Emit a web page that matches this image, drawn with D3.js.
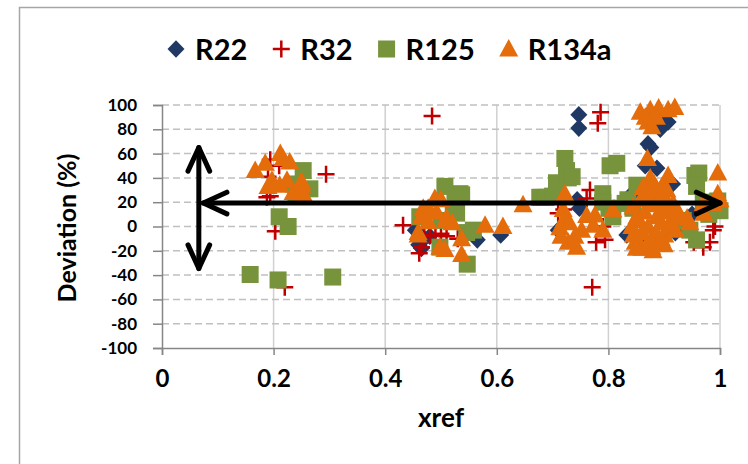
<!DOCTYPE html>
<html>
<head>
<meta charset="utf-8">
<script src="https://cdn.jsdelivr.net/npm/d3@7"></script>
<style>
  body { margin: 0; background: #fff; }
  text { font-family: Lato, "Open Sans", sans-serif; font-weight: bold; fill: #000; }
</style>
</head>
<body>
<script>
// series names and legend order
var seriesNames = ["R22", "R32", "R125", "R134a"];

// [xref, deviation %]
var r22 = [
  [0.747, 92], [0.747, 81],
  [0.907, 86], [0.898, 84], [0.893, 80], [0.871, 68], [0.876, 65], [0.887, 48], [0.866, 50], [0.915, 35],
  [0.71, -3], [0.744, 22], [0.748, 15],
  [0.838, -5], [0.842, 27], [0.85, 30],
  [0.454, -3], [0.46, -15], [0.465, -18], [0.47, -10], [0.48, -8],
  [0.565, -11], [0.607, -7],
  [0.915, 8], [0.833, -7], [0.86, -10], [0.9, 15], [0.95, 10], [0.92, -5]
];
var r32 = [
  [0.484, 91], [0.786, 94], [0.781, 85], [0.294, 43], [0.194, 55], [0.19, 41], [0.194, 25], [0.203, -4],
  [0.22, -50], [0.188, 24], [0.21, 50],
  [0.432, 1], [0.461, -22], [0.465, -17], [0.47, -8], [0.48, -7], [0.49, -7], [0.5, -6], [0.51, -8], [0.53, -10],
  [0.771, -50], [0.778, -13], [0.794, -11], [0.767, 30], [0.761, 23], [0.71, 11], [0.72, 14], [0.79, 0],
  [0.982, -13], [0.991, 0], [0.97, -17], [0.953, -13], [0.988, -3], [0.84, 20], [0.88, 25], [0.81, 15]
];
var r125 = [
  [0.158, -39.5], [0.208, -44], [0.306, -41.6], [0.21, 8], [0.226, 0], [0.253, 46], [0.265, 31], [0.235, 35], [0.24, 28],
  [0.507, 33], [0.534, 27], [0.525, 22], [0.537, 26], [0.528, 11], [0.522, 13], [0.546, -5], [0.558, -3], [0.547, -31],
  [0.498, -17], [0.462, 8], [0.5, 5],
  [0.677, 24], [0.68, 24], [0.707, 36], [0.722, 56], [0.725, 46], [0.728, 40], [0.735, 41], [0.688, 24], [0.7, 25],
  [0.803, 50], [0.815, 52], [0.79, 27], [0.79, 20], [0.801, 15], [0.808, 8], [0.844, 15], [0.835, 22], [0.851, 34], [0.83, 19],
  [0.955, 42], [0.962, 44], [0.958, 33], [0.996, 21], [1.0, 13], [0.958, -11], [0.934, 5], [0.946, -3], [0.97, 20], [0.98, 10]
];
var r134a = [
  [0.167, 46], [0.185, 52], [0.217, 56], [0.229, 53], [0.212, 60], [0.197, 38], [0.19, 33], [0.211, 34], [0.224, 38],
  [0.235, 28], [0.251, 34], [0.253, 27], [0.25, 37],
  [0.489, 23], [0.468, 15], [0.51, 7], [0.459, -5], [0.459, -7], [0.498, -17], [0.507, -19], [0.537, -10], [0.537, -23],
  [0.477, 15], [0.492, 12], [0.51, 5], [0.52, 3], [0.465, 8], [0.5, 22], [0.477, 4],
  [0.579, 1], [0.611, 0], [0.647, 18],
  [0.722, 27], [0.719, 14], [0.72, 5], [0.713, -1], [0.715, -8], [0.728, -13], [0.743, -17], [0.752, -3], [0.761, 9],
  [0.776, 9.5], [0.773, 1], [0.74, -8], [0.808, 13.6], [0.79, -3], [0.73, 3],
  [0.857, 94], [0.875, 96], [0.89, 97.5], [0.907, 96], [0.919, 98], [0.866, 90], [0.871, 86], [0.878, 82], [0.886, 90], [0.87, 56],
  [0.875, 40], [0.907, 42], [0.896, 33], [0.862, 32], [0.88, 27], [0.858, 22], [0.844, 16], [0.851, 8], [0.842, 0], [0.845, -7],
  [0.848, -13], [0.86, -18], [0.878, -17], [0.889, -14], [0.901, -7], [0.91, 0], [0.916, 8], [0.916, 19], [0.887, 8], [0.871, 0],
  [0.86, -5], [0.877, -10], [0.875, 18], [0.9, 25], [0.865, 12], [0.895, 15], [0.87, -14],
  [0.855, 5], [0.885, -5], [0.895, 3], [0.905, 12], [0.865, 25], [0.89, 22], [0.85, -18], [0.88, -20], [0.895, -10],
  [0.92, -3], [0.925, 12], [0.905, 30], [0.87, 30], [0.882, 35], [0.9, -15],
  [0.941, 7], [0.946, 3], [0.97, 19], [0.996, 44], [0.996, 27], [1.0, 22], [0.988, 19], [0.971, 11]
];

var xTicks = [0, 0.2, 0.4, 0.6, 0.8, 1];
var yTicks = [-100, -80, -60, -40, -20, 0, 20, 40, 60, 80, 100];

// the two double-headed arrows drawn on the chart, in data units
var hArrow = {x1: 0.074, x2: 1.0, y: 19.3};
var vArrow = {x: 0.066, y1: 65, y2: -34.6};

var margin = {top: 105, right: 28, bottom: 116, left: 162},
  width = 748 - margin.left - margin.right,
  height = 464 - margin.top - margin.bottom;

var root = d3.select("body").append("svg")
  .attr("width", 748)
  .attr("height", 464);

// outer chart border (runs off the picture on the right and bottom)
root.append("rect")
  .attr("x", 19.5).attr("y", 7.5)
  .attr("width", 760).attr("height", 480)
  .attr("fill", "#fff")
  .attr("stroke", "#a6a6a6")
  .attr("stroke-width", 1.5);

var svg = root.append("g")
  .attr("transform", "translate(" + margin.left + "," + margin.top + ")");

var x = d3.scaleLinear().range([0, width]).domain([0, 1]);
var y = d3.scaleLinear().range([height, 0]).domain([-100, 100]);

// vertical gridlines
svg.append("g")
  .selectAll("line")
  .data(xTicks.slice(1))
  .enter().append("line")
  .attr("x1", function(d) { return x(d); })
  .attr("x2", function(d) { return x(d); })
  .attr("y1", 0).attr("y2", height)
  .attr("stroke", "#d0d0d0")
  .attr("stroke-width", 1.5);

// horizontal dashed gridlines
svg.append("g")
  .selectAll("line")
  .data(yTicks.slice(1))
  .enter().append("line")
  .attr("x1", 0).attr("x2", width)
  .attr("y1", function(d) { return y(d); })
  .attr("y2", function(d) { return y(d); })
  .attr("stroke", "#c0c0c0")
  .attr("stroke-width", 1.5)
  .attr("stroke-dasharray", "7,4");

// axes
var plain = function(d) { return String(d); };
var xAxis = svg.append("g")
  .attr("class", "x axis")
  .attr("transform", "translate(0," + height + ")")
  .call(d3.axisBottom(x).tickValues(xTicks).tickSize(7).tickPadding(15).tickFormat(plain));
var yAxis = svg.append("g")
  .attr("class", "y axis")
  .call(d3.axisLeft(y).tickValues(yTicks).tickSize(9).tickPadding(16).tickFormat(plain));

xAxis.select(".domain").attr("stroke", "#868686").attr("stroke-width", 1.5);
yAxis.select(".domain").attr("stroke", "#868686").attr("stroke-width", 1.5);
xAxis.selectAll(".tick line").attr("stroke", "#868686").attr("stroke-width", 1.5);
yAxis.selectAll(".tick line").attr("stroke", "#868686").attr("stroke-width", 1.5);
xAxis.selectAll(".tick text").attr("font-size", 24).attr("font-family", "Lato, sans-serif").attr("font-weight", "bold").attr("fill", "#000");
yAxis.selectAll(".tick text").attr("font-size", 17).attr("font-family", "DejaVu Sans, sans-serif").attr("font-weight", "bold").attr("fill", "#000");

// axis titles
svg.append("text")
  .attr("x", width / 2)
  .attr("y", 322)
  .attr("text-anchor", "middle")
  .attr("font-size", 26)
  .text("xref");
svg.append("text")
  .attr("transform", "translate(" + (76 - margin.left) + "," + (228 - margin.top) + ") rotate(-90)")
  .attr("text-anchor", "middle")
  .attr("font-size", 25)
  .text("Deviation (%)");

// marker symbols
var colors = ["#1f3864", "#c00000", "#77933c", "#e46c0a"];
function marker(sel, i) {
  if (i === 0) {
    sel.append("path").attr("d", "M0,-8.8L8.5,0L0,8.8L-8.5,0Z").attr("fill", colors[0]);
  } else if (i === 1) {
    sel.append("path").attr("d", "M-8.5,0H8.5M0,-8.5V8.5")
      .attr("stroke", colors[1]).attr("stroke-width", 2.5).attr("fill", "none");
  } else if (i === 2) {
    sel.append("rect").attr("x", -8.5).attr("y", -8.5).attr("width", 17).attr("height", 17).attr("fill", colors[2]);
  } else {
    sel.append("path").attr("d", "M0,-10L9.5,7.5L-9.5,7.5Z").attr("fill", colors[3]);
  }
}

var allSeries = [r22, r32, r125, r134a];
allSeries.forEach(function(data, i) {
  svg.append("g")
    .selectAll("g")
    .data(data)
    .enter().append("g")
    .attr("transform", function(d) { return "translate(" + x(d[0]) + "," + y(d[1]) + ")"; })
    .each(function() { marker(d3.select(this), i); });
});

// arrows
function arrowHead(g, px, py, dx, dy) {
  // dx, dy: direction the tip points to
  var len = 26, spread = 0.43;
  var a = Math.atan2(dy, dx);
  var p1 = [px - len * Math.cos(a - spread), py - len * Math.sin(a - spread)];
  var p2 = [px - len * Math.cos(a + spread), py - len * Math.sin(a + spread)];
  g.append("path")
    .attr("d", "M" + p1 + "L" + px + "," + py + "L" + p2)
    .attr("fill", "none").attr("stroke", "#000").attr("stroke-width", 5)
    .attr("stroke-linecap", "round").attr("stroke-linejoin", "round");
}
var arrows = svg.append("g");
arrows.append("line")
  .attr("x1", x(hArrow.x1)).attr("x2", x(hArrow.x2))
  .attr("y1", y(hArrow.y)).attr("y2", y(hArrow.y))
  .attr("stroke", "#000").attr("stroke-width", 5).attr("stroke-linecap", "round");
arrowHead(arrows, x(hArrow.x1), y(hArrow.y), -1, 0);
arrowHead(arrows, x(hArrow.x2), y(hArrow.y), 1, 0);
arrows.append("line")
  .attr("x1", x(vArrow.x)).attr("x2", x(vArrow.x))
  .attr("y1", y(vArrow.y1)).attr("y2", y(vArrow.y2))
  .attr("stroke", "#000").attr("stroke-width", 5).attr("stroke-linecap", "round");
arrowHead(arrows, x(vArrow.x), y(vArrow.y1), 0, -1);
arrowHead(arrows, x(vArrow.x), y(vArrow.y2), 0, 1);

// legend
var legend = root.append("g").attr("transform", "translate(176,49)");
var lx = 0;
seriesNames.forEach(function(name, i) {
  var item = legend.append("g").attr("transform", "translate(" + lx + ",0)");
  marker(item, i);
  var t = item.append("text")
    .attr("x", 19)
    .attr("y", 11)
    .attr("font-size", 29)
    .text(name);
  lx += 19 + t.node().getComputedTextLength() + 34;
});
</script>
</body>
</html>
